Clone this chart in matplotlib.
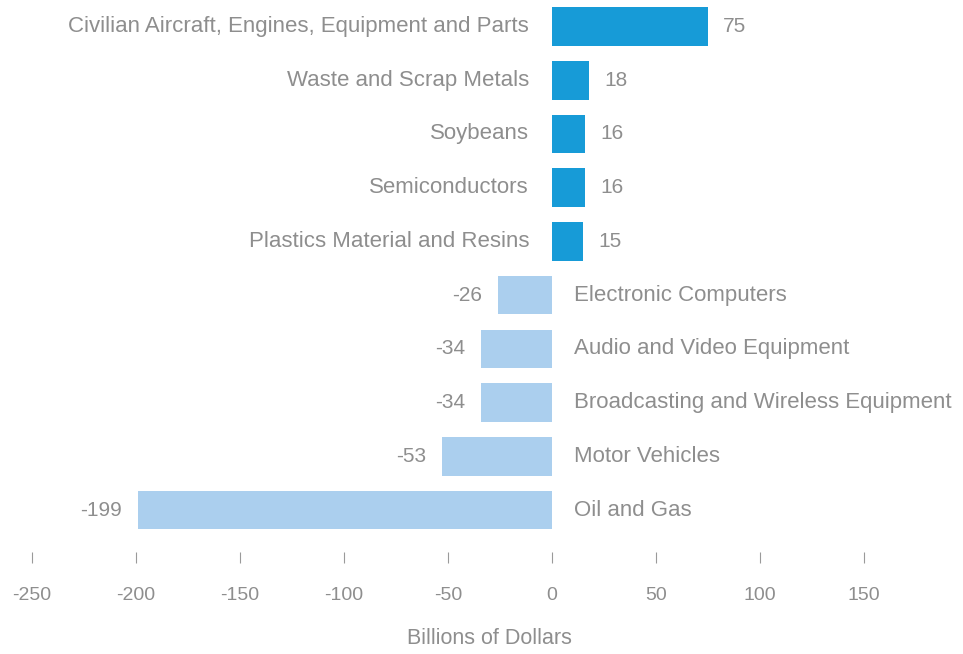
import matplotlib
matplotlib.use("Agg")
import matplotlib.pyplot as plt

# top US trade products, balance in billions of dollars
categories = [
    "Civilian Aircraft, Engines, Equipment and Parts",
    "Waste and Scrap Metals",
    "Soybeans",
    "Semiconductors",
    "Plastics Material and Resins",
    "Electronic Computers",
    "Audio and Video Equipment",
    "Broadcasting and Wireless Equipment",
    "Motor Vehicles",
    "Oil and Gas",
]
values = [75, 18, 16, 16, 15, -26, -34, -34, -53, -199]
xticks = [-250, -200, -150, -100, -50, 0, 50, 100, 150]

pos_color = "#179BD7"
neg_color = "#ABCFEE"
text_color = "#8E8E8E"

plt.rcParams['font.family'] = ['Liberation Sans', 'DejaVu Sans']

fig = plt.figure(figsize=(9.63, 6.54), dpi=100)
W, H = 963, 654
ax = fig.add_axes([0, (H - 552) / H, 1, 552 / H])

ypos = list(range(len(categories)))
colors = [pos_color if v >= 0 else neg_color for v in values]
ax.barh(ypos, values, height=0.72, color=colors)

ax.set_xlim(-552 / 2.08, (W - 552) / 2.08)
ax.set_ylim(9.78, -0.493)

for y, v, name in zip(ypos, values, categories):
    if v >= 0:
        ax.annotate(name, (0, y), xytext=(-23, 0), textcoords="offset pixels",
                    ha="right", va="center", color=text_color, fontsize=16)
        ax.annotate(str(v), (v, y), xytext=(15, 0), textcoords="offset pixels",
                    ha="left", va="center", color=text_color, fontsize=15)
    else:
        ax.annotate(name, (0, y), xytext=(22, 0), textcoords="offset pixels",
                    ha="left", va="center", color=text_color, fontsize=16)
        ax.annotate(str(v), (v, y), xytext=(-16, 0), textcoords="offset pixels",
                    ha="right", va="center", color=text_color, fontsize=15)

ax.set_xticks(xticks)
ax.set_xticklabels([str(t) for t in xticks])
ax.set_yticks([])
for s in ax.spines.values():
    s.set_visible(False)
ax.tick_params(axis="x", direction="out", length=7.9, width=0.8,
               color="#9A9A9A", labelcolor=text_color, labelsize=14, pad=17)

fig.text(489 / W, 1 - 639 / H, "Billions of Dollars", ha="center", va="center",
         color=text_color, fontsize=15.5)

fig.savefig("out.png", dpi=100)
